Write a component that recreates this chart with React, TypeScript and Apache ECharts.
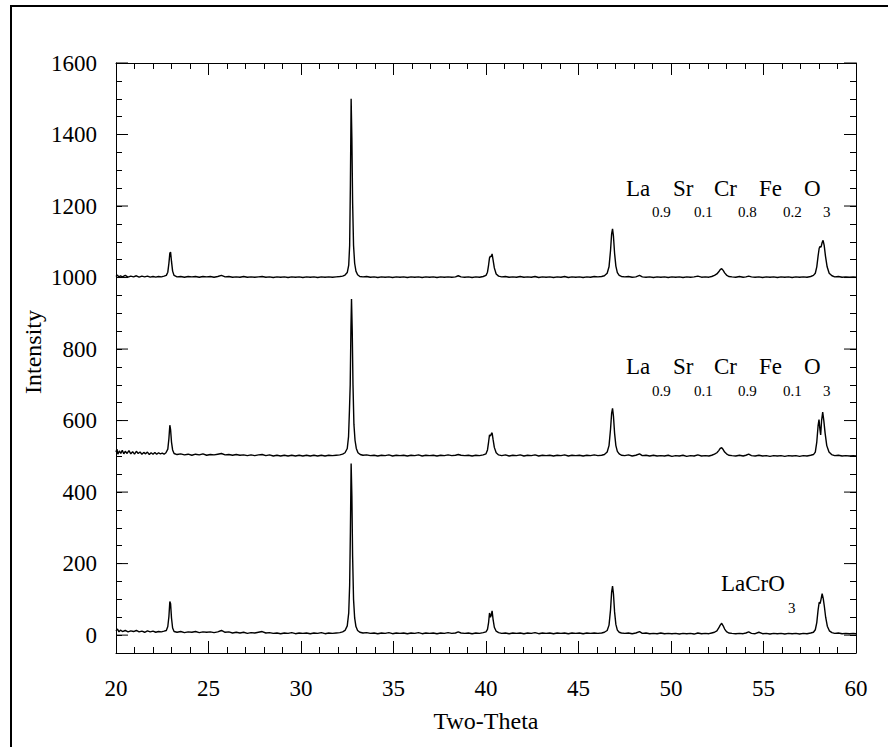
import React, { useEffect, useRef } from "react";
import * as echarts from "echarts";

// ---- Data (2θ, intensity) ----
const lacro3Flat = [
  20.0, 12, 20.08, 17, 20.16, 9, 20.24, 14, 20.35, 10, 20.5, 13, 20.65, 9, 20.8, 12, 20.95, 10, 21.1, 13, 21.25, 9, 21.4, 11, 21.55, 8, 21.7, 12, 21.85, 9, 22.0, 11, 22.15, 8, 22.3, 10, 22.45, 9, 22.6, 11, 22.72, 13,
  22.8, 24, 22.86, 52, 22.91, 94, 22.95, 88, 23.0, 48, 23.06, 20, 23.14, 10,
  23.3, 8, 23.5, 10, 23.7, 7, 23.9, 9, 24.1, 8, 24.3, 10, 24.5, 7, 24.7, 9, 24.9, 8, 25.1, 9, 25.3, 7, 25.5, 9, 25.7, 13, 25.9, 8, 26.1, 9, 26.3, 6, 26.5, 8, 26.7, 6, 26.9, 8, 27.1, 5, 27.3, 7, 27.5, 6, 27.7, 8, 27.9, 10, 28.1, 6, 28.3, 7, 28.5, 5, 28.7, 6, 28.9, 4, 29.1, 6, 29.3, 5, 29.5, 7, 29.7, 4, 29.9, 6, 30.1, 5, 30.3, 6, 30.5, 4, 30.7, 6, 30.9, 5, 31.1, 7, 31.3, 4, 31.5, 6, 31.7, 5, 31.9, 6, 32.1, 7, 32.25, 9, 32.38, 13,
  32.5, 26, 32.58, 62, 32.63, 140, 32.67, 290, 32.71, 480, 32.75, 390, 32.79, 220, 32.84, 100, 32.9, 48, 32.97, 24, 33.06, 13, 33.18, 8,
  33.35, 6, 33.55, 7, 33.75, 5, 33.95, 6, 34.15, 4, 34.35, 6, 34.55, 5, 34.75, 7, 34.95, 4, 35.15, 6, 35.35, 5, 35.55, 6, 35.75, 4, 35.95, 6, 36.15, 5, 36.35, 7, 36.55, 4, 36.75, 6, 36.95, 5, 37.15, 6, 37.35, 4, 37.55, 6, 37.75, 5, 37.95, 7, 38.15, 5, 38.35, 6, 38.5, 9, 38.65, 6, 38.85, 5, 39.05, 6, 39.25, 4, 39.45, 6, 39.65, 5, 39.85, 7,
  40.0, 9, 40.08, 16, 40.14, 35, 40.19, 62, 40.24, 50, 40.28, 55, 40.33, 68, 40.38, 45, 40.45, 22, 40.55, 11, 40.68, 7,
  40.85, 5, 41.05, 6, 41.25, 4, 41.45, 6, 41.65, 5, 41.85, 6, 42.05, 4, 42.25, 6, 42.45, 5, 42.65, 7, 42.85, 4, 43.05, 6, 43.25, 5, 43.45, 6, 43.65, 4, 43.85, 6, 44.05, 5, 44.25, 6, 44.45, 4, 44.65, 6, 44.85, 5, 45.05, 6, 45.25, 4, 45.45, 6, 45.65, 5, 45.85, 6, 46.05, 5, 46.25, 6, 46.4, 8,
  46.55, 13, 46.65, 28, 46.73, 70, 46.79, 120, 46.84, 137, 46.89, 115, 46.95, 65, 47.02, 30, 47.1, 14, 47.2, 8, 47.32, 6,
  47.5, 5, 47.7, 6, 47.9, 4, 48.1, 6, 48.3, 10, 48.45, 5, 48.65, 6, 48.85, 4, 49.05, 5, 49.25, 4, 49.45, 6, 49.65, 4, 49.85, 5, 50.05, 4, 50.25, 5, 50.45, 3, 50.65, 5, 50.85, 4, 51.05, 5, 51.25, 3, 51.45, 6, 51.65, 4, 51.85, 5, 52.05, 4, 52.2, 6, 52.35, 8,
  52.48, 12, 52.58, 20, 52.66, 28, 52.74, 33, 52.82, 26, 52.9, 17, 53.0, 10, 53.12, 6,
  53.3, 5, 53.5, 4, 53.7, 5, 53.9, 4, 54.05, 6, 54.2, 9, 54.35, 5, 54.55, 4, 54.75, 8, 54.95, 4, 55.15, 5, 55.35, 3, 55.55, 5, 55.75, 4, 55.95, 5, 56.15, 3, 56.35, 5, 56.55, 4, 56.75, 5, 56.95, 3, 57.15, 5, 57.35, 4, 57.55, 6, 57.7, 8,
  57.8, 15, 57.88, 35, 57.95, 70, 58.01, 92, 58.06, 88, 58.11, 100, 58.17, 116, 58.23, 102, 58.29, 80, 58.36, 50, 58.45, 25, 58.56, 12, 58.7, 7,
  58.85, 5, 59.05, 6, 59.25, 4, 59.45, 5, 59.65, 4, 59.85, 5, 60.0, 4,
];

const lsc91Flat = [
  20.0, 512, 20.05, 520, 20.1, 506, 20.18, 515, 20.26, 508, 20.34, 517, 20.42, 507, 20.5, 514, 20.6, 508, 20.7, 516, 20.8, 507, 20.9, 513, 21.0, 506, 21.1, 514, 21.2, 508, 21.3, 512, 21.4, 506, 21.5, 511, 21.6, 507, 21.7, 512, 21.8, 505, 21.9, 510, 22.0, 506, 22.1, 511, 22.2, 506, 22.3, 510, 22.4, 507, 22.5, 509, 22.6, 506, 22.7, 510,
  22.8, 520, 22.86, 550, 22.91, 587, 22.95, 575, 23.0, 540, 23.06, 518, 23.14, 508,
  23.3, 505, 23.5, 507, 23.7, 504, 23.9, 506, 24.1, 503, 24.3, 506, 24.5, 504, 24.7, 507, 24.9, 503, 25.1, 505, 25.3, 504, 25.5, 506, 25.7, 508, 25.9, 504, 26.1, 505, 26.3, 503, 26.5, 505, 26.7, 503, 26.9, 504, 27.1, 502, 27.3, 504, 27.5, 502, 27.7, 504, 27.9, 505, 28.1, 502, 28.3, 504, 28.5, 501, 28.7, 503, 28.9, 501, 29.1, 503, 29.3, 501, 29.5, 503, 29.7, 501, 29.9, 503, 30.1, 501, 30.3, 503, 30.5, 501, 30.7, 503, 30.9, 501, 31.1, 503, 31.3, 501, 31.5, 503, 31.7, 502, 31.9, 503, 32.1, 504, 32.25, 506, 32.38, 510,
  32.5, 522, 32.57, 555, 32.62, 630, 32.66, 700, 32.7, 860, 32.73, 940, 32.77, 850, 32.81, 700, 32.86, 590, 32.92, 545, 32.99, 522, 33.08, 510, 33.2, 505,
  33.35, 503, 33.55, 504, 33.75, 502, 33.95, 503, 34.15, 501, 34.35, 503, 34.55, 502, 34.75, 504, 34.95, 501, 35.15, 503, 35.35, 502, 35.55, 503, 35.75, 501, 35.95, 503, 36.15, 502, 36.35, 504, 36.55, 501, 36.75, 503, 36.95, 502, 37.15, 503, 37.35, 501, 37.55, 503, 37.75, 502, 37.95, 504, 38.15, 502, 38.35, 503, 38.5, 505, 38.65, 503, 38.85, 502, 39.05, 503, 39.25, 501, 39.45, 503, 39.65, 502, 39.85, 504,
  40.0, 507, 40.08, 518, 40.14, 540, 40.19, 560, 40.24, 557, 40.28, 562, 40.33, 566, 40.38, 548, 40.45, 525, 40.55, 510, 40.68, 504,
  40.85, 502, 41.05, 504, 41.25, 501, 41.45, 503, 41.65, 502, 41.85, 504, 42.05, 501, 42.25, 503, 42.45, 502, 42.65, 504, 42.85, 501, 43.05, 503, 43.25, 502, 43.45, 503, 43.65, 501, 43.85, 503, 44.05, 502, 44.25, 504, 44.45, 501, 44.65, 503, 44.85, 502, 45.05, 503, 45.25, 501, 45.45, 503, 45.65, 502, 45.85, 504, 46.05, 502, 46.25, 503, 46.4, 505,
  46.55, 512, 46.65, 530, 46.73, 575, 46.79, 620, 46.84, 634, 46.89, 612, 46.95, 565, 47.02, 530, 47.1, 514, 47.2, 507, 47.32, 503,
  47.5, 502, 47.7, 504, 47.9, 501, 48.1, 503, 48.3, 507, 48.45, 502, 48.65, 503, 48.85, 501, 49.05, 503, 49.25, 501, 49.45, 502, 49.65, 501, 49.85, 503, 50.05, 500, 50.25, 502, 50.45, 501, 50.65, 503, 50.85, 500, 51.05, 502, 51.25, 501, 51.45, 504, 51.65, 501, 51.85, 502, 52.05, 501, 52.2, 503, 52.35, 506,
  52.48, 510, 52.58, 516, 52.66, 522, 52.74, 524, 52.82, 519, 52.9, 512, 53.0, 507, 53.12, 503,
  53.3, 502, 53.5, 501, 53.7, 503, 53.9, 501, 54.05, 503, 54.2, 506, 54.35, 502, 54.55, 501, 54.75, 503, 54.95, 501, 55.15, 502, 55.35, 500, 55.55, 502, 55.75, 501, 55.95, 502, 56.15, 500, 56.35, 502, 56.55, 501, 56.75, 502, 56.95, 500, 57.15, 502, 57.35, 501, 57.55, 503, 57.7, 505,
  57.8, 512, 57.88, 540, 57.95, 585, 58.0, 603, 58.05, 575, 58.09, 560, 58.14, 600, 58.2, 624, 58.26, 600, 58.33, 565, 58.42, 530, 58.54, 512, 58.68, 505,
  58.85, 502, 59.05, 503, 59.25, 501, 59.45, 502, 59.65, 501, 59.85, 502, 60.0, 501,
];

const lsc82Flat = [
  20.0, 1003, 20.08, 1007, 20.16, 1001, 20.24, 1005, 20.35, 1002, 20.5, 1006, 20.65, 1001, 20.8, 1004, 20.95, 1002, 21.1, 1005, 21.25, 1001, 21.4, 1004, 21.55, 1002, 21.7, 1004, 21.85, 1001, 22.0, 1003, 22.15, 1001, 22.3, 1003, 22.45, 1002, 22.6, 1004, 22.72, 1006,
  22.8, 1015, 22.86, 1040, 22.91, 1068, 22.95, 1071, 23.0, 1045, 23.06, 1018, 23.14, 1006,
  23.3, 1002, 23.5, 1003, 23.7, 1001, 23.9, 1003, 24.1, 1002, 24.3, 1003, 24.5, 1001, 24.7, 1003, 24.9, 1002, 25.1, 1003, 25.3, 1001, 25.5, 1003, 25.7, 1006, 25.9, 1002, 26.1, 1003, 26.3, 1001, 26.5, 1002, 26.7, 1001, 26.9, 1003, 27.1, 1001, 27.3, 1002, 27.5, 1001, 27.7, 1002, 27.9, 1003, 28.1, 1001, 28.3, 1002, 28.5, 1000, 28.7, 1002, 28.9, 1001, 29.1, 1002, 29.3, 1000, 29.5, 1002, 29.7, 1001, 29.9, 1002, 30.1, 1000, 30.3, 1002, 30.5, 1001, 30.7, 1002, 30.9, 1000, 31.1, 1002, 31.3, 1001, 31.5, 1002, 31.7, 1001, 31.9, 1002, 32.1, 1003, 32.25, 1004, 32.38, 1007,
  32.5, 1014, 32.58, 1035, 32.63, 1090, 32.67, 1260, 32.71, 1500, 32.75, 1390, 32.79, 1210, 32.84, 1090, 32.9, 1040, 32.97, 1018, 33.06, 1008, 33.18, 1003,
  33.35, 1002, 33.55, 1003, 33.75, 1001, 33.95, 1002, 34.15, 1000, 34.35, 1002, 34.55, 1001, 34.75, 1002, 34.95, 1000, 35.15, 1002, 35.35, 1001, 35.55, 1002, 35.75, 1000, 35.95, 1002, 36.15, 1001, 36.35, 1002, 36.55, 1000, 36.75, 1002, 36.95, 1001, 37.15, 1002, 37.35, 1000, 37.55, 1002, 37.75, 1001, 37.95, 1002, 38.15, 1001, 38.35, 1002, 38.5, 1005, 38.65, 1002, 38.85, 1001, 39.05, 1002, 39.25, 1000, 39.45, 1002, 39.65, 1001, 39.85, 1003,
  40.0, 1006, 40.08, 1015, 40.14, 1035, 40.19, 1055, 40.24, 1060, 40.28, 1058, 40.33, 1066, 40.38, 1050, 40.45, 1027, 40.55, 1010, 40.68, 1004,
  40.85, 1002, 41.05, 1003, 41.25, 1001, 41.45, 1002, 41.65, 1001, 41.85, 1003, 42.05, 1001, 42.25, 1002, 42.45, 1001, 42.65, 1003, 42.85, 1000, 43.05, 1002, 43.25, 1001, 43.45, 1002, 43.65, 1000, 43.85, 1002, 44.05, 1001, 44.25, 1003, 44.45, 1000, 44.65, 1002, 44.85, 1001, 45.05, 1002, 45.25, 1000, 45.45, 1002, 45.65, 1001, 45.85, 1003, 46.05, 1002, 46.25, 1003, 46.4, 1005,
  46.55, 1012, 46.65, 1030, 46.73, 1075, 46.79, 1122, 46.84, 1136, 46.89, 1115, 46.95, 1068, 47.02, 1032, 47.1, 1014, 47.2, 1006, 47.32, 1003,
  47.5, 1002, 47.7, 1003, 47.9, 1001, 48.1, 1002, 48.3, 1006, 48.45, 1002, 48.65, 1001, 48.85, 1002, 49.05, 1000, 49.25, 1002, 49.45, 1001, 49.65, 1002, 49.85, 1000, 50.05, 1002, 50.25, 1001, 50.45, 1002, 50.65, 1000, 50.85, 1002, 51.05, 1001, 51.25, 1002, 51.45, 1004, 51.65, 1001, 51.85, 1002, 52.05, 1001, 52.2, 1003, 52.35, 1006,
  52.48, 1010, 52.58, 1016, 52.66, 1022, 52.74, 1025, 52.82, 1020, 52.9, 1013, 53.0, 1007, 53.12, 1003,
  53.3, 1002, 53.5, 1001, 53.7, 1003, 53.9, 1001, 54.05, 1002, 54.2, 1004, 54.35, 1002, 54.55, 1001, 54.75, 1002, 54.95, 1000, 55.15, 1002, 55.35, 1001, 55.55, 1002, 55.75, 1000, 55.95, 1002, 56.15, 1001, 56.35, 1002, 56.55, 1000, 56.75, 1002, 56.95, 1001, 57.15, 1002, 57.35, 1001, 57.55, 1003, 57.7, 1006,
  57.8, 1012, 57.88, 1030, 57.95, 1060, 58.01, 1082, 58.06, 1087, 58.11, 1085, 58.17, 1098, 58.22, 1104, 58.28, 1090, 58.35, 1060, 58.44, 1030, 58.55, 1012, 58.7, 1005,
  58.85, 1002, 59.05, 1003, 59.25, 1001, 59.45, 1002, 59.65, 1001, 59.85, 1002, 60.0, 1001,
];

const yMajorTicks = [0, 200, 400, 600, 800, 1000, 1200, 1400, 1600];

// Label texts (main line and subscripts)
const topLabelMain = ["La", "Sr", "Cr", "Fe", "O"];
const topLabelSub = ["0.9", "0.1", "0.8", "0.2", "3"];
const midLabelMain = ["La", "Sr", "Cr", "Fe", "O"];
const midLabelSub = ["0.9", "0.1", "0.9", "0.1", "3"];
const botLabelMain = ["LaCrO"];
const botLabelSub = ["3"];

// layout (pixels)
const mainX = [626, 673, 714, 759, 804];
const subX = [652, 694, 738, 783, 823];

const FONT = '"Liberation Serif", "Times New Roman", Times, serif';

function toPairs(flat: number[]): [number, number][] {
  const out: [number, number][] = [];
  for (let i = 0; i + 1 < flat.length; i += 2) out.push([flat[i], flat[i + 1]]);
  return out;
}

function textEl(text: string, x: number, y: number, size: number) {
  return {
    type: "text",
    x,
    y,
    silent: true,
    style: {
      text,
      fill: "#000",
      fontSize: size,
      fontFamily: FONT,
      align: "left",
      verticalAlign: "middle",
    },
  };
}

export default function App() {
  const ref = useRef<HTMLDivElement>(null);

  useEffect(() => {
    if (!ref.current) return;
    const chart = echarts.init(ref.current, undefined, { renderer: "svg" });

    const axisCommon = {
      axisLine: { show: true, onZero: false, lineStyle: { color: "#000", width: 1 } },
      splitLine: { show: false },
    };

    const lineSeries = (name: string, flat: number[]) => ({
      name,
      type: "line",
      xAxisIndex: 0,
      yAxisIndex: 0,
      data: toPairs(flat),
      showSymbol: false,
      symbol: "none",
      lineStyle: { color: "#000", width: 1.4 },
      itemStyle: { color: "#000" },
      silent: true,
      z: 3,
    });

    const graphics: any[] = [
      {
        type: "rect",
        shape: { x: 11, y: 6, width: 960, height: 860 },
        style: { fill: "none", stroke: "#000", lineWidth: 2 },
        silent: true,
      },
      {
        type: "text",
        x: 33,
        y: 352,
        rotation: Math.PI / 2,
        silent: true,
        style: {
          text: "Intensity",
          fill: "#000",
          fontSize: 24,
          fontFamily: FONT,
          align: "center",
          verticalAlign: "middle",
        },
      },
    ];
    topLabelMain.forEach((t, i) => graphics.push(textEl(t, mainX[i], 188, 23)));
    topLabelSub.forEach((t, i) => graphics.push(textEl(t, subX[i], 212, 15)));
    midLabelMain.forEach((t, i) => graphics.push(textEl(t, mainX[i], 366, 23)));
    midLabelSub.forEach((t, i) => graphics.push(textEl(t, subX[i], 391, 15)));
    botLabelMain.forEach((t) => graphics.push(textEl(t, 721, 583, 23)));
    botLabelSub.forEach((t) => graphics.push(textEl(t, 788, 608, 15)));

    const option: any = {
      animation: false,
      backgroundColor: "#fff",
      grid: { left: 116, top: 63, right: 32, bottom: 94, containLabel: false, outerBoundsMode: "none" },
      xAxis: [
        {
          type: "value",
          position: "bottom",
          min: 20,
          max: 60,
          interval: 5,
          ...axisCommon,
          axisTick: { show: true, inside: true, length: 12, lineStyle: { color: "#000", width: 1 } },
          minorTick: { show: true, splitNumber: 5, length: 6, lineStyle: { color: "#000", width: 1 } },
          axisLabel: { show: true, margin: 24, color: "#000", fontSize: 23, fontFamily: FONT },
          name: "Two-Theta",
          nameLocation: "middle",
          nameGap: 56,
          nameTextStyle: { color: "#000", fontSize: 24, fontFamily: FONT },
        },
        {
          type: "value",
          position: "top",
          min: 20,
          max: 60,
          interval: 5,
          ...axisCommon,
          axisTick: { show: true, inside: true, length: 12, lineStyle: { color: "#000", width: 1 } },
          minorTick: { show: true, splitNumber: 5, length: 6, lineStyle: { color: "#000", width: 1 } },
          axisLabel: { show: false },
        },
      ],
      yAxis: [
        {
          type: "value",
          position: "left",
          min: -50,
          max: 1600,
          interval: 50,
          ...axisCommon,
          axisTick: { show: true, inside: true, length: 6, lineStyle: { color: "#000", width: 1 } },
          axisLabel: {
            show: true,
            margin: 19,
            color: "#000",
            fontSize: 23,
            fontFamily: FONT,
            formatter: (v: number) => (Math.round(v) % 200 === 0 ? String(Math.round(v)) : ""),
          },
        },
        {
          type: "value",
          position: "right",
          min: -50,
          max: 1600,
          interval: 50,
          ...axisCommon,
          axisTick: { show: true, inside: true, length: 6, lineStyle: { color: "#000", width: 1 } },
          axisLabel: { show: false },
        },
      ],
      series: [
        lineSeries("LaCrO3", lacro3Flat),
        lineSeries("La0.9Sr0.1Cr0.9Fe0.1O3", lsc91Flat),
        lineSeries("La0.9Sr0.1Cr0.8Fe0.2O3", lsc82Flat),
        {
          type: "custom",
          name: "yMajorTicks",
          xAxisIndex: 0,
          yAxisIndex: 0,
          silent: true,
          clip: false,
          data: yMajorTicks.map((v) => [20, v]),
          encode: { x: 0, y: 1 },
          renderItem: (_params: any, api: any) => {
            const v = api.value(1);
            const l = api.coord([20, v]);
            const r = api.coord([60, v]);
            const st = { stroke: "#000", lineWidth: 1 };
            return {
              type: "group",
              children: [
                { type: "line", shape: { x1: l[0], y1: l[1], x2: l[0] + 12, y2: l[1] }, style: st },
                { type: "line", shape: { x1: r[0], y1: r[1], x2: r[0] - 12, y2: r[1] }, style: st },
              ],
            };
          },
          z: 4,
        },
      ],
      graphic: graphics,
    };

    chart.setOption(option);
    return () => chart.dispose();
  }, []);

  return (
    <div
      ref={ref}
      style={{ position: "fixed", left: 0, top: 0, width: 888, height: 747, background: "#fff" }}
    />
  );
}
